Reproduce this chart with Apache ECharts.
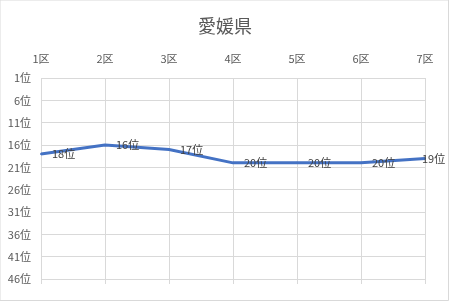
<!DOCTYPE html>
<html><head><meta charset="utf-8">
<script src="https://cdn.jsdelivr.net/npm/echarts@6/dist/echarts.min.js"></script>
<style>html,body{margin:0;padding:0;background:#fff}#c{width:450px;height:302px}</style>
</head><body><div id="c"></div>
<script>
var title = "愛媛県";
var categories = ["1区","2区","3区","4区","5区","6区","7区"];
var ranks = [18,16,17,20,20,20,19];
var rankSuffix = "位";

var chart = echarts.init(document.getElementById('c'), null, {renderer:'canvas'});
var font = "'Noto Sans CJK JP', 'Noto Sans', sans-serif";
var seriesData = ranks.map(function(v,i){
  var d = {value:v};
  if (i === ranks.length-1) d.label = {position:[-2,1],align:'left',verticalAlign:'middle'};
  return d;
});
chart.setOption({
  animation:false,
  backgroundColor:'#fff',
  title:{text:title,left:'center',top:12,textStyle:{fontFamily:font,fontSize:18,fontWeight:'normal',color:'#595959'}},
  grid:{left:41,right:25,top:78,bottom:23},
  xAxis:[{
    type:'category',data:categories,position:'top',boundaryGap:false,
    axisLine:{show:false},axisTick:{show:false},
    axisLabel:{color:'#595959',fontSize:11,fontFamily:font,margin:14},
    splitLine:{show:true,lineStyle:{color:'#d9d9d9',width:1}}
  },{
    type:'category',data:categories,position:'bottom',boundaryGap:false,
    axisLine:{show:false},axisTick:{show:true,length:5,lineStyle:{color:'#d9d9d9'}},
    axisLabel:{show:false},splitLine:{show:false}
  }],
  yAxis:{
    type:'value',inverse:true,min:1,max:46,interval:5,
    axisLine:{show:false},axisTick:{show:false},
    axisLabel:{color:'#595959',fontSize:11,fontFamily:font,margin:10,formatter:function(v){return v+rankSuffix;}},
    splitLine:{show:true,lineStyle:{color:'#d9d9d9',width:1}}
  },
  graphic:[{type:'rect',shape:{x:0,y:0,width:448.5,height:300.5},style:{fill:'none',stroke:'#d9d9d9',lineWidth:1},silent:true}],
  series:[{
    type:'line',data:seriesData,xAxisIndex:0,symbol:'circle',symbolSize:2,showSymbol:true,
    itemStyle:{color:'#4472C4'},
    lineStyle:{color:'#4472C4',width:3},
    labelLayout:{hideOverlap:false},
    label:{show:true,position:'right',distance:10,color:'#404040',fontSize:11,fontFamily:font,
      formatter:function(p){return p.value+rankSuffix;}}
  }]
});
</script></body></html>
